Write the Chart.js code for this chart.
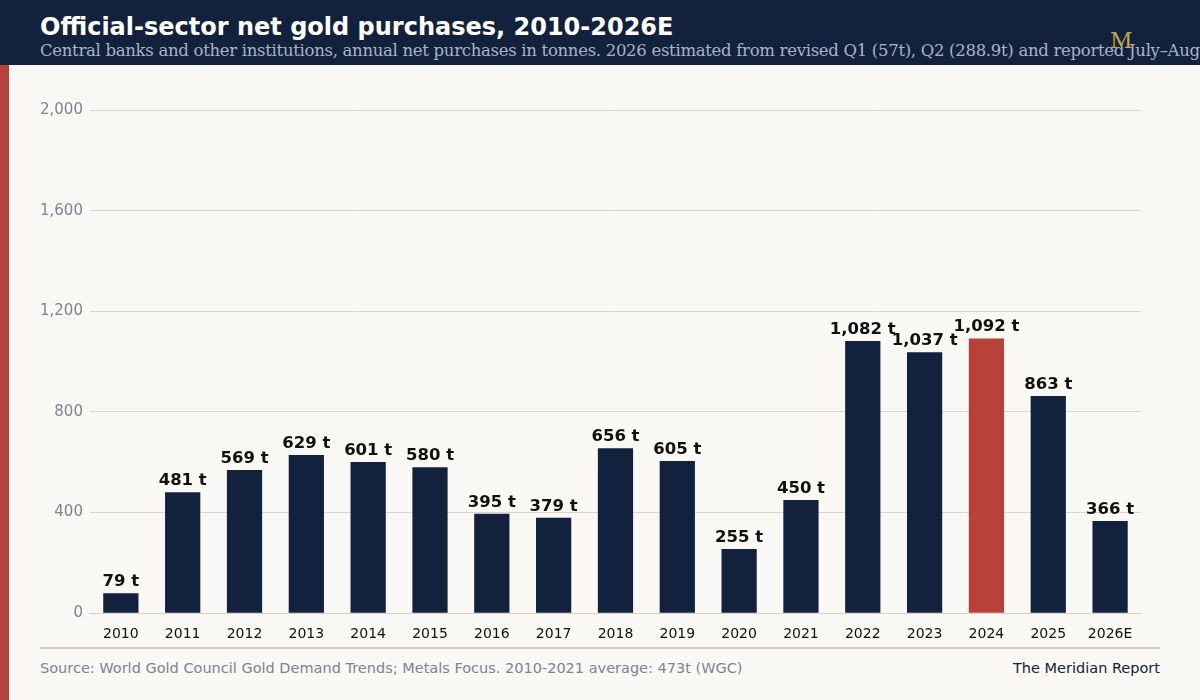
<!DOCTYPE html>
<html><head><meta charset="utf-8">
<script src="https://cdn.jsdelivr.net/npm/chart.js@4.4.1/dist/chart.umd.min.js"></script>
<style>
html,body{margin:0;padding:0;width:1200px;height:700px;overflow:hidden;background:#faf8f4;font-family:"DejaVu Sans",sans-serif}
#hdr{position:absolute;left:0;top:0;width:1200px;height:65px;background:#13223c;overflow:hidden}
#t{position:absolute;left:40px;top:13px;color:#fff;font-weight:bold;font-size:24px;white-space:nowrap}
#st{position:absolute;left:40px;top:41px;color:#a9b3c4;font-family:"DejaVu Serif",serif;font-size:16.5px;white-space:nowrap;letter-spacing:-0.3px}
#logo{position:absolute;left:1110px;top:28px;color:#c9a24e;font-family:"DejaVu Serif",serif;font-size:22px}
#bar{position:absolute;left:0;top:65px;width:9px;height:635px;background:#b8413a}
#rule{position:absolute;left:40px;top:647px;width:1120px;height:2px;background:#d6d0c6}
#src{position:absolute;left:40px;top:660px;color:#7a8495;font-size:14.5px}
#brand{position:absolute;right:40px;top:660px;color:#13223c;font-size:14.5px}
#c{position:absolute;left:0;top:0}
</style></head><body>
<div id="hdr"><div id="t">Official-sector net gold purchases, 2010-2026E</div>
<div id="st">Central banks and other institutions, annual net purchases in tonnes. 2026 estimated from revised Q1 (57t), Q2 (288.9t) and reported July–August data</div>
<div id="logo">M</div></div>
<div id="bar"></div>
<div id="rule"></div>
<div id="src">Source: World Gold Council Gold Demand Trends; Metals Focus. 2010-2021 average: 473t (WGC)</div>
<div id="brand">The Meridian Report</div>
<canvas id="c" width="1200" height="700"></canvas>
<script>
const categories=["2010","2011","2012","2013","2014","2015","2016","2017","2018","2019","2020","2021","2022","2023","2024","2025","2026E"];
const tonnes=[79,481,569,629,601,580,395,379,656,605,255,450,1082,1037,1092,863,366];
const yTicks=[0,400,800,1200,1600,2000];
const highlight="2024";
const colors=categories.map(c=>c===highlight?"#b8413a":"#13223c");
const labelPlugin={id:"lbl",afterDatasetsDraw(ch){const ctx=ch.ctx;const m=ch.getDatasetMeta(0);ctx.save();ctx.font="bold 16.5px 'DejaVu Sans'";ctx.fillStyle="#111";ctx.textAlign="center";ctx.textBaseline="bottom";
m.data.forEach((b,i)=>{ctx.fillText(tonnes[i].toLocaleString("en-US")+" t",b.x,b.y-3);});ctx.restore();}};
new Chart(document.getElementById("c"),{type:"bar",
data:{labels:categories,datasets:[{data:tonnes,backgroundColor:colors,barPercentage:0.57,categoryPercentage:1}]},
options:{responsive:false,animation:false,layout:{padding:{left:33,right:59,top:110,bottom:52}},
plugins:{legend:{display:false},tooltip:{enabled:false}},
scales:{x:{grid:{display:false},border:{color:"#d6d0c6"},ticks:{color:"#111",font:{size:14,family:"DejaVu Sans"},padding:5}},
y:{min:0,max:2000,afterBuildTicks(a){a.ticks=yTicks.map(v=>({value:v}));},grid:{color:"#d9d6d0",drawTicks:false,tickLength:0},border:{display:false},
ticks:{color:"#7a8495",font:{size:15,family:"DejaVu Sans"},padding:7,callback:v=>v.toLocaleString("en-US")}}}},
plugins:[labelPlugin]});
</script></body></html>
